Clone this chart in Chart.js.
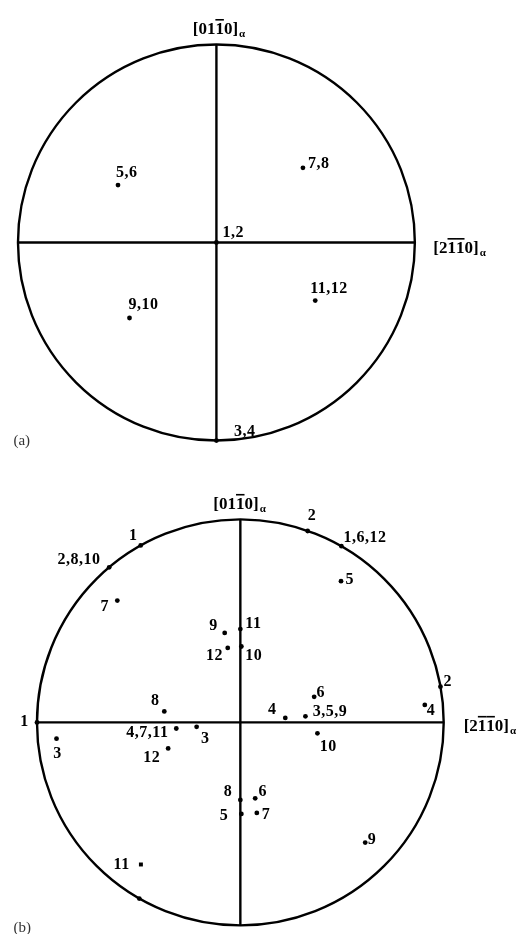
<!DOCTYPE html>
<html>
<head>
<meta charset="utf-8">
<script src="https://cdn.jsdelivr.net/npm/chart.js@4.4.1/dist/chart.umd.min.js"></script>
<style>
  body { margin: 0; background: #fff; }
  .wrap { position: relative; width: 526px; height: 934px; }
  canvas { position: absolute; left: 0; }
  #poleA { top: 0; }
  #poleB { top: 465px; }
</style>
</head>
<body>
<div class="wrap">
  <canvas id="poleA" width="526" height="465"></canvas>
  <canvas id="poleB" width="526" height="469"></canvas>
</div>
<script>
// (a) variant poles, projected coordinates (unit circle)
const topVariants = ['1,2', '3,4', '5,6', '7,8', '9,10', '11,12'];
const topX = [0, 0, -0.496, 0.436, -0.438, 0.498];
const topY = [0, -1, 0.290, 0.377, -0.381, -0.293];

// (b) variant poles
const bottomVariants = ['1', '2,8,10', '2', '1,6,12', '5', '7', '9', '11', '12', '10',
  '2', '6', '4', '8', '4', '3,5,9', '1', '4,7,11', '3', '3',
  '10', '12', '8', '6', '5', '7', '9', '11', ''];
const bottomX = [-0.490, -0.645, 0.331, 0.497, 0.495, -0.605, -0.077, 0.000, -0.062, 0.005,
  0.984, 0.363, 0.907, -0.374, 0.221, 0.320, -1.000, -0.315, -0.215, -0.904,
  0.379, -0.355, 0.000, 0.073, 0.005, 0.081, 0.614, -0.489, -0.497];
const bottomY = [0.872, 0.764, 0.943, 0.868, 0.696, 0.600, 0.441, 0.460, 0.367, 0.374,
  0.176, 0.126, 0.086, 0.054, 0.022, 0.030, 0.000, -0.030, -0.022, -0.080,
  -0.054, -0.128, -0.382, -0.374, -0.451, -0.446, -0.592, -0.700, -0.868];

const axisEnds = [-1, 1];

// label placement relative to the pole (px)
const topLabelShift = [[6, -6], [17.5, -5], [-2, -8], [5, 0], [-1, -8.5], [-5, -7.7]];
const bottomLabelShift = [[-11.6, -5.7], [-51.7, -3], [0, -10.6], [2, -4.7], [4.4, 2.5],
  [-16.7, 10], [-15.5, -2.5], [5, -1], [-21.8, 12], [4, 14],
  [3, -1], [2.3, 0], [2, 10], [-13.4, -6], [-17.4, -3.5],
  [7.3, -0.7], [-16.7, 4], [-50, 9], [4.3, 16], [-3.3, 19],
  [2.4, 17.7], [-25, 14], [-16.7, -4.4], [3.3, -2.7], [-21.7, 6],
  [5, 6], [2.6, 1.5], [-27.3, 5], [0, 0]];
const bottomSquares = [27];

const verticalDir = { chars: ['[', '0', '1', '1', '0', ']'], bars: [3] };
const horizontalDir = { chars: ['[', '2', '1', '1', '0', ']'], bars: [2, 3] };

function drawIndex(ctx, dir, x, y) {
  ctx.font = 'bold 17px "Liberation Serif"';
  ctx.textAlign = 'left';
  let cx = x;
  dir.chars.forEach((c, i) => {
    ctx.fillText(c, cx, y);
    const w = ctx.measureText(c).width;
    if (dir.bars.includes(i)) {
      ctx.fillRect(cx, y - 15, w, 1.6);
    }
    cx += w;
  });
  ctx.font = 'bold 11px "Liberation Serif"';
  ctx.fillText('α', cx + 1, y + 3);
}

function buildPole(id, geo, xs, ys, labels, shift, squares) {
  const points = xs.map((v, i) => ({ x: v, y: ys[i] }));
  const rim = {
    id: 'rim',
    beforeDatasetsDraw(chart) {
      const { ctx, scales: { x, y } } = chart;
      const cx = x.getPixelForValue(0), cy = y.getPixelForValue(0);
      ctx.save();
      ctx.beginPath();
      ctx.ellipse(cx, cy, x.getPixelForValue(1) - cx, cy - y.getPixelForValue(1), 0, 0, Math.PI * 2);
      ctx.lineWidth = 2.4;
      ctx.strokeStyle = '#000';
      ctx.stroke();
      ctx.restore();
    }
  };
  const texts = {
    id: 'texts',
    afterDatasetsDraw(chart) {
      const { ctx, scales: { x, y } } = chart;
      const meta = chart.getDatasetMeta(2);
      ctx.save();
      ctx.fillStyle = '#000';
      ctx.font = 'bold 16px "Liberation Serif"';
      ctx.letterSpacing = '0.5px';
      meta.data.forEach((pt, i) => {
        if (!labels[i]) return;
        ctx.fillText(labels[i], pt.x + shift[i][0], pt.y + shift[i][1]);
      });
      ctx.letterSpacing = '0px';
      drawIndex(ctx, verticalDir, x.getPixelForValue(0) + geo.topDx, y.getPixelForValue(1) - 10.5);
      drawIndex(ctx, horizontalDir, x.getPixelForValue(1) + geo.rightDx, y.getPixelForValue(0) + geo.rightDy);
      ctx.fillStyle = '#333';
      ctx.font = '15px "Liberation Serif"';
      ctx.fillText(geo.panel, 13.4, geo.panelY);
      ctx.restore();
    }
  };
  const canvas = document.getElementById(id);
  const W = canvas.width, H = canvas.height;
  return new Chart(canvas, {
    type: 'scatter',
    data: {
      datasets: [
        {
          data: axisEnds.map(v => ({ x: v, y: 0 })),
          showLine: true, borderColor: '#000', borderWidth: 2.4, pointRadius: 0
        },
        {
          data: axisEnds.map(v => ({ x: 0, y: v })),
          showLine: true, borderColor: '#000', borderWidth: 2.4, pointRadius: 0
        },
        {
          data: points,
          backgroundColor: '#000', borderColor: '#000', borderWidth: 0,
          pointRadius: ctx => (squares.includes(ctx.dataIndex) ? 2.8 : 2.4),
          pointStyle: ctx => (squares.includes(ctx.dataIndex) ? 'rect' : 'circle')
        }
      ]
    },
    options: {
      responsive: false,
      animation: false,
      layout: { padding: 0 },
      plugins: { legend: { display: false }, tooltip: { enabled: false } },
      scales: {
        x: { type: 'linear', display: false, min: -geo.cx / geo.r, max: (W - geo.cx) / geo.r },
        y: { type: 'linear', display: false, min: -(H - geo.cy) / geo.r, max: geo.cy / geo.r }
      }
    },
    plugins: [rim, texts]
  });
}

buildPole('poleA',
  { cx: 215.7, cy: 242.7, r: 201.5, topDx: -23.7, rightDx: 18.5, rightDy: 10.5, panel: '(a)', panelY: 445 },
  topX, topY, topVariants, topLabelShift, []);

buildPole('poleB',
  { cx: 240, cy: 257.8, r: 206.5, topDx: -27, rightDx: 20, rightDy: 8.5, panel: '(b)', panelY: 467 },
  bottomX, bottomY, bottomVariants, bottomLabelShift, bottomSquares);
</script>
</body>
</html>
